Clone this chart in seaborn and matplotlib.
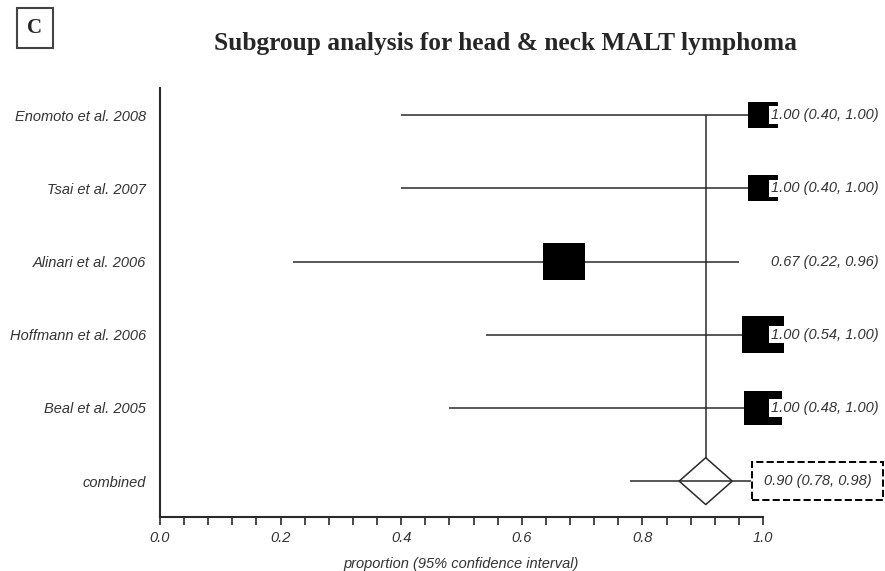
import numpy as np
import matplotlib.pyplot as plt
import seaborn as sns

# study data
studies = ['Enomoto et al. 2008', 'Tsai et al. 2007', 'Alinari et al. 2006',
           'Hoffmann et al. 2006', 'Beal et al. 2005']
estimate = [1.00, 1.00, 0.67, 1.00, 1.00]
ci_low = [0.40, 0.40, 0.22, 0.54, 0.48]
ci_high = [1.00, 1.00, 0.96, 1.00, 1.00]
weights = [0.71, 0.71, 1.00, 1.00, 0.90]

pooled_label = 'combined'
pooled_est = 0.905
pooled_low = 0.78
pooled_high = 0.98
pooled_text = '0.90 (0.78, 0.98)'

sns.set_theme(style='white')
plt.rcParams['font.family'] = ['Liberation Sans', 'DejaVu Sans']

fig = plt.figure(figsize=(8.85, 5.71), dpi=100)
ax = fig.add_axes([160 / 885, 54 / 571, 603 / 885, 429 / 571])

rows = np.arange(len(studies))
pooled_row = len(studies)
ink = '#2a2a2a'

# confidence interval lines
ax.hlines(rows, ci_low, ci_high, color=ink, lw=1.1, zorder=2)
ax.hlines(pooled_row, pooled_low, pooled_high, color=ink, lw=1.1, zorder=2)

# pooled estimate reference line + diamond
dh = 0.32
dw = 0.044
ax.vlines(pooled_est, rows[0], pooled_row - dh, color=ink, lw=1.1, zorder=2)
ax.plot([pooled_est - dw, pooled_est, pooled_est + dw, pooled_est, pooled_est - dw],
        [pooled_row, pooled_row - dh, pooled_row, pooled_row + dh, pooled_row],
        color=ink, lw=1.1, zorder=2)

# weighted boxes
box = [(-1, -0.88), (1, -0.88), (1, 0.88), (-1, 0.88)]
sizes = (30.2 * np.array(weights)) ** 2
sns.scatterplot(x=estimate, y=rows, s=sizes, marker=box, color='black',
                linewidth=0, legend=False, ax=ax, zorder=3, clip_on=False)

# estimate labels
fs = 10.5
for r, e, lo, hi in zip(rows, estimate, ci_low, ci_high):
    ax.text(1.191, r, f'{e:.2f} ({lo:.2f}, {hi:.2f})', ha='right', va='center',
            style='italic', fontsize=fs, color='#333333', zorder=4,
            bbox=dict(facecolor='white', edgecolor='none', boxstyle='square,pad=0.12'))
ax.text(1.18, pooled_row, pooled_text, ha='right', va='center', style='italic',
        fontsize=fs, color='#333333', zorder=4,
        bbox=dict(facecolor='white', edgecolor='black', linestyle='--', lw=1.4,
                  boxstyle='square,pad=0.8'))

# axes styling
ax.set_xlim(0, 1)
ax.set_ylim(pooled_row + 0.49, -0.37)
ax.set_yticks(list(rows) + [pooled_row])
ax.set_yticklabels(studies + [pooled_label], style='italic', fontsize=fs, color='#333333')
ax.tick_params(axis='y', length=0, pad=10)
ax.set_xticks(np.arange(0, 1.01, 0.2))
ax.set_xticks(np.arange(0, 1.01, 0.04), minor=True)
ax.set_xticklabels([f'{v:.1f}' for v in np.arange(0, 1.01, 0.2)], style='italic',
                   fontsize=fs, color='#333333')
ax.tick_params(axis='x', which='both', bottom=True, direction='out', length=6,
               width=1.2, color=ink, pad=4)
ax.set_xlabel('proportion (95% confidence interval)', style='italic', fontsize=10.5,
              color='#333333', labelpad=9)
for side in ['top', 'right']:
    ax.spines[side].set_visible(False)
for side in ['left', 'bottom']:
    ax.spines[side].set_color(ink)
    ax.spines[side].set_linewidth(1.5)

fig.text(0.571, 0.923, 'Subgroup analysis for head & neck MALT lymphoma',
         ha='center', va='center', fontsize=18.3, fontweight='bold',
         family='Liberation Serif')
fig.text(0.0395, 0.951, 'C', ha='center', va='center', fontsize=15, fontweight='bold',
         family='Liberation Serif',
         bbox=dict(facecolor='white', edgecolor='#444444', lw=1.5, boxstyle='square,pad=0.5'))

fig.savefig('out.png', dpi=100)
